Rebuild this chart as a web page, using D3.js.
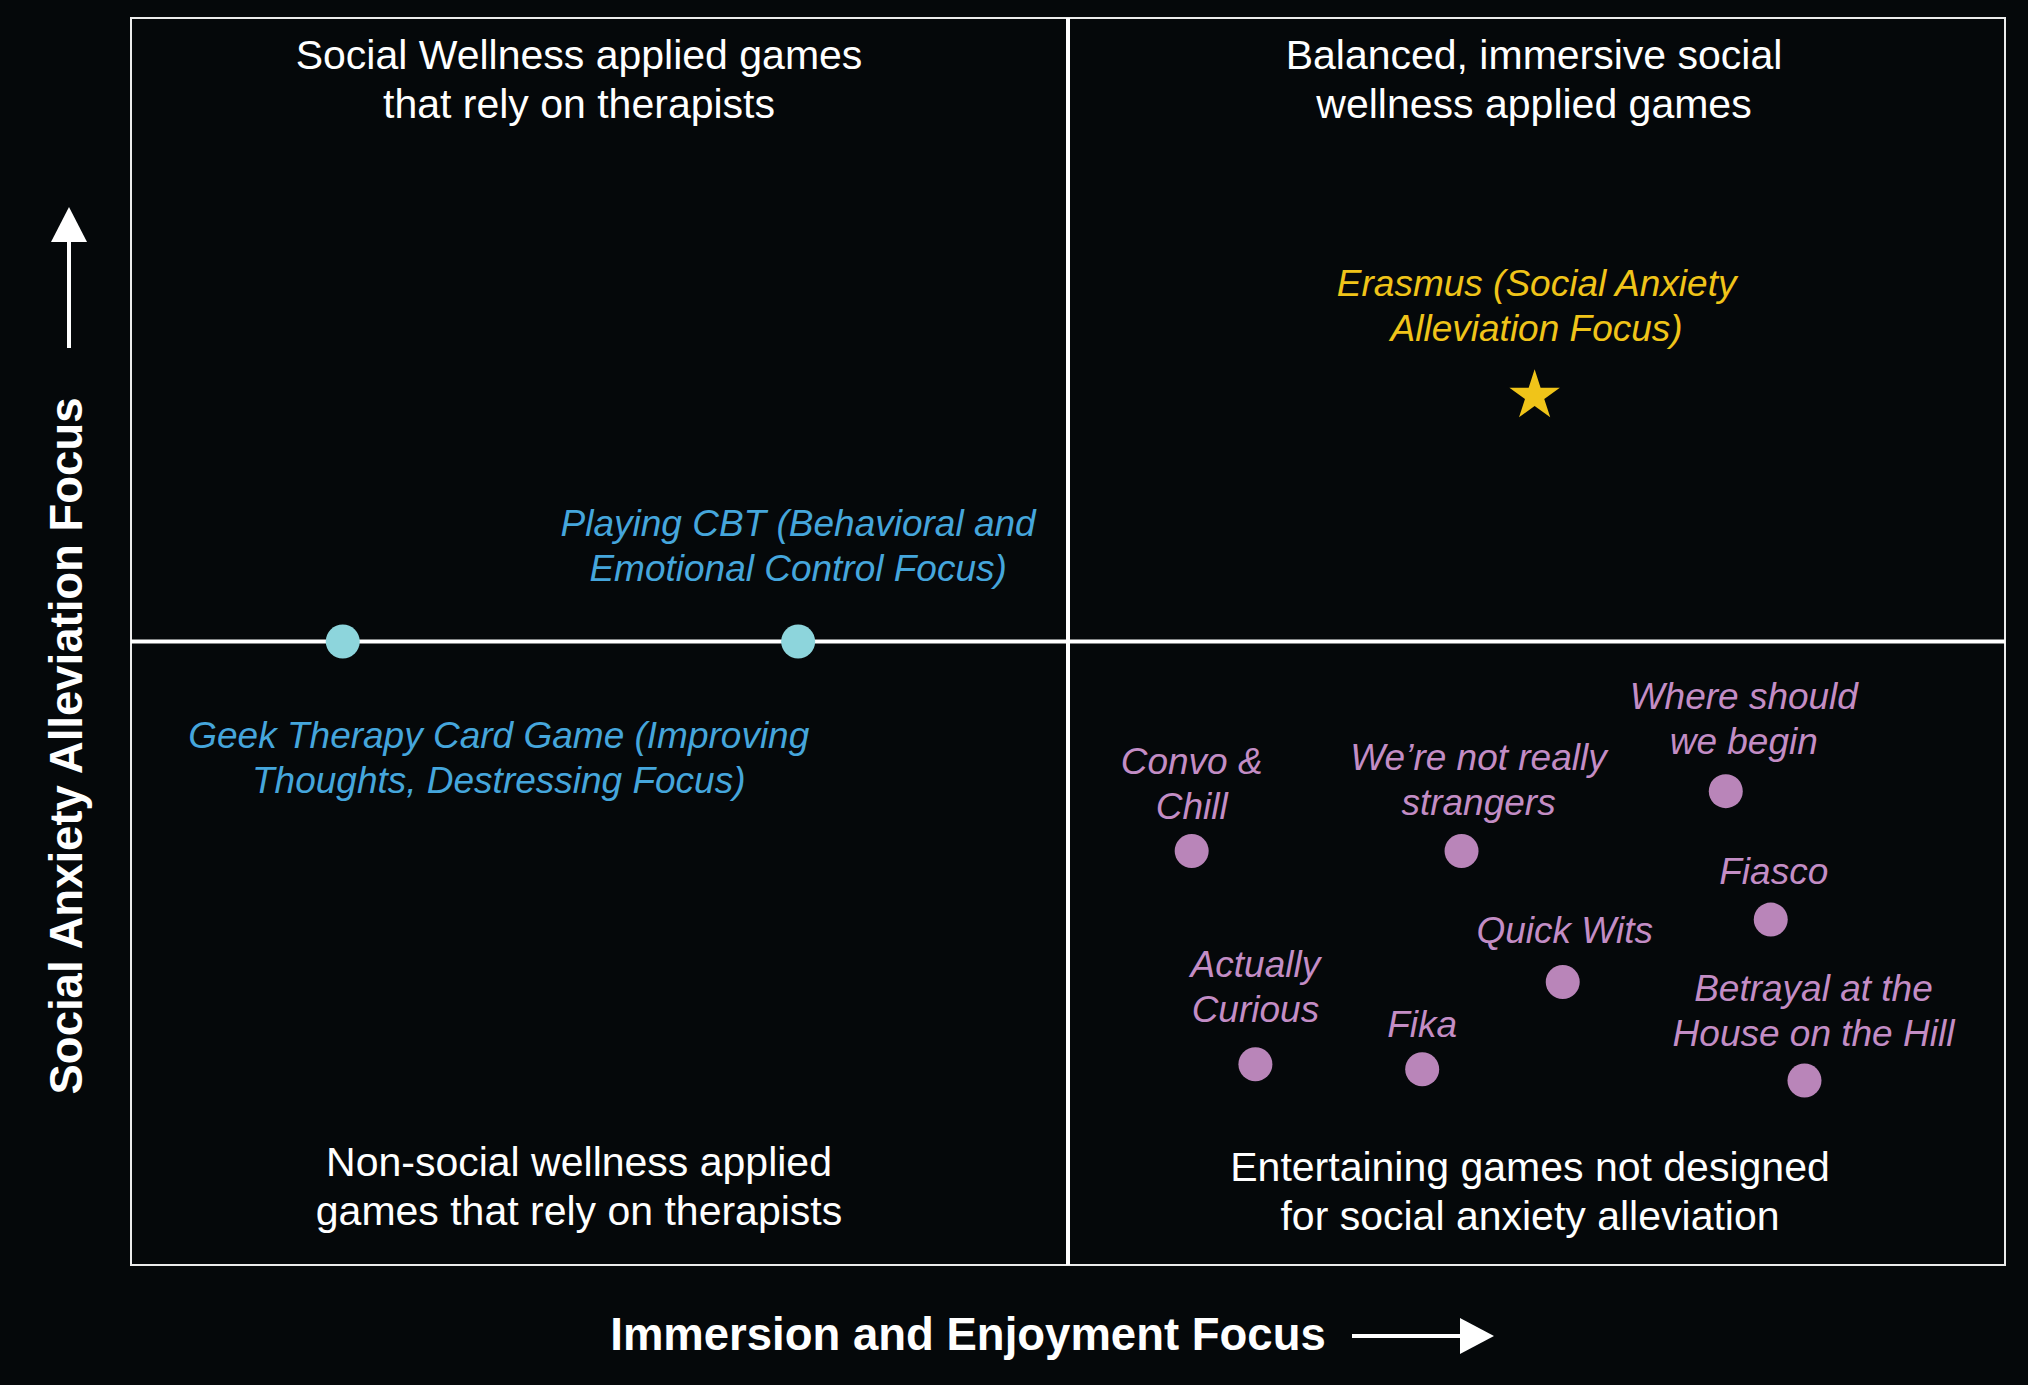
<!DOCTYPE html>
<html>
<head>
<meta charset="utf-8">
<script src="https://cdn.jsdelivr.net/npm/d3@7"></script>
<style>
  html, body { margin: 0; padding: 0; background: #05080a; }
  svg { display: block; }
</style>
</head>
<body>
<div id="chart"></div>
<script>
// ---------- DATA ----------
const games = [
  "Geek Therapy Card Game",
  "Playing CBT",
  "Erasmus",
  "Convo & Chill",
  "We're not really strangers",
  "Where should we begin",
  "Fiasco",
  "Quick Wits",
  "Actually Curious",
  "Fika",
  "Betrayal at the House on the Hill"
];
const immersion = [1.13, 3.56, 7.49, 5.66, 7.10, 8.51, 8.75, 7.64, 6.00, 6.89, 8.93];
const alleviation = [5.0, 5.0, 6.97, 3.32, 3.32, 3.80, 2.77, 2.27, 1.61, 1.57, 1.48];
const groups = ["therapy", "therapy", "erasmus", "entertain", "entertain", "entertain",
                "entertain", "entertain", "entertain", "entertain", "entertain"];
const labelLines = [
  ["Geek Therapy Card Game (Improving", "Thoughts, Destressing Focus)"],
  ["Playing CBT (Behavioral and", "Emotional Control Focus)"],
  ["Erasmus (Social Anxiety", "Alleviation Focus)"],
  ["Convo &", "Chill"],
  ["We\u2019re not really", "strangers"],
  ["Where should", "we begin"],
  ["Fiasco"],
  ["Quick Wits"],
  ["Actually", "Curious"],
  ["Fika"],
  ["Betrayal at the", "House on the Hill"]
];
const quadrantTitles = [
  ["Social Wellness applied games", "that rely on therapists"],
  ["Balanced, immersive social", "wellness applied games"],
  ["Non-social wellness applied", "games that rely on therapists"],
  ["Entertaining games not designed", "for social anxiety alleviation"]
];
const xAxisTitle = "Immersion and Enjoyment Focus";
const yAxisTitle = "Social Anxiety Alleviation Focus";

// ---------- LAYOUT / STYLE ----------
const W = 2028, H = 1385;
const frame = { left: 131, top: 18, right: 2005, bottom: 1265 };
const FONT = "'Liberation Sans', Arial, Helvetica, sans-serif";
const colors = {
  bg: "#05080a",
  frame: "#ececec",
  therapyDot: "#8dd5dc",
  therapyText: "#45a6dc",
  erasmus: "#f0c419",
  entertainDot: "#b985b9",
  entertainText: "#c38dc5",
  white: "#ffffff"
};
// label offsets (px) relative to each point: [dx, first-line dy]
const labelOffset = {
  "Geek Therapy Card Game": [156, 106],
  "Playing CBT": [0, -106],
  "Erasmus": [2, -100],
  "Convo & Chill": [0, -77],
  "We're not really strangers": [17, -81],
  "Where should we begin": [18, -82],
  "Fiasco": [3, -36],
  "Quick Wits": [2, -39],
  "Actually Curious": [0, -87],
  "Fika": [0, -32],
  "Betrayal at the House on the Hill": [9, -79]
};
const labelLineGap = 45;

const x = d3.scaleLinear().domain([0, 10]).range([frame.left, frame.right]);
const y = d3.scaleLinear().domain([0, 10]).range([frame.bottom, frame.top]);

const svg = d3.select("#chart").append("svg")
  .attr("width", W).attr("height", H)
  .style("background", colors.bg);

svg.append("rect").attr("width", W).attr("height", H).attr("fill", colors.bg);

// frame
svg.append("rect")
  .attr("x", frame.left).attr("y", frame.top)
  .attr("width", frame.right - frame.left).attr("height", frame.bottom - frame.top)
  .attr("fill", "none").attr("stroke", colors.frame).attr("stroke-width", 2);

// quadrant dividers
svg.append("line")
  .attr("x1", x(5)).attr("x2", x(5)).attr("y1", frame.top).attr("y2", frame.bottom)
  .attr("stroke", colors.white).attr("stroke-width", 4);
svg.append("line")
  .attr("x1", frame.left).attr("x2", frame.right).attr("y1", y(5)).attr("y2", y(5))
  .attr("stroke", colors.white).attr("stroke-width", 4);

// quadrant titles
const titlePos = [
  { cx: 579, base: frame.top + 51 },
  { cx: 1534, base: frame.top + 51 },
  { cx: 579, base: frame.bottom - 89 },
  { cx: 1530, base: frame.bottom - 84 }
];
quadrantTitles.forEach((lines, i) => {
  const t = svg.append("text")
    .attr("text-anchor", "middle")
    .attr("font-family", FONT)
    .attr("font-size", 41)
    .attr("fill", colors.white);
  lines.forEach((ln, j) => {
    t.append("tspan").attr("x", titlePos[i].cx).attr("y", titlePos[i].base + j * 49).text(ln);
  });
});

// points
const data = games.map((g, i) => ({
  name: g, x: immersion[i], y: alleviation[i], group: groups[i], lines: labelLines[i]
}));

const dotColor = g => g === "therapy" ? colors.therapyDot : g === "erasmus" ? colors.erasmus : colors.entertainDot;
const textColor = g => g === "therapy" ? colors.therapyText : g === "erasmus" ? colors.erasmus : colors.entertainText;

svg.selectAll("circle.pt")
  .data(data.filter(d => d.group !== "erasmus"))
  .join("circle")
  .attr("class", "pt")
  .attr("cx", d => x(d.x)).attr("cy", d => y(d.y))
  .attr("r", 17)
  .attr("fill", d => dotColor(d.group));

svg.selectAll("path.star")
  .data(data.filter(d => d.group === "erasmus"))
  .join("path")
  .attr("class", "star")
  .attr("transform", d => `translate(${x(d.x)},${y(d.y)})`)
  .attr("d", d3.symbol().type(d3.symbolStar).size(790))
  .attr("fill", colors.erasmus);

// labels
data.forEach(d => {
  const off = labelOffset[d.name];
  const t = svg.append("text")
    .attr("text-anchor", "middle")
    .attr("font-family", FONT)
    .attr("font-style", "italic")
    .attr("font-size", 37)
    .attr("fill", textColor(d.group));
  d.lines.forEach((ln, j) => {
    t.append("tspan")
      .attr("x", x(d.x) + off[0])
      .attr("y", y(d.y) + off[1] + j * labelLineGap)
      .text(ln);
  });
});

// axis titles
svg.append("text")
  .attr("x", 968).attr("y", 1350)
  .attr("text-anchor", "middle")
  .attr("font-family", FONT).attr("font-weight", "bold").attr("font-size", 45.5)
  .attr("fill", colors.white)
  .text(xAxisTitle);

svg.append("text")
  .attr("transform", "translate(82,746) rotate(-90)")
  .attr("text-anchor", "middle")
  .attr("font-family", FONT).attr("font-weight", "bold").attr("font-size", 45.5)
  .attr("fill", colors.white)
  .text(yAxisTitle);

// arrows
svg.append("line").attr("x1", 1352).attr("x2", 1462).attr("y1", 1336).attr("y2", 1336)
  .attr("stroke", colors.white).attr("stroke-width", 4);
svg.append("path").attr("d", "M1460,1318 L1494,1336 L1460,1354 Z").attr("fill", colors.white);

svg.append("line").attr("x1", 69).attr("x2", 69).attr("y1", 348).attr("y2", 240)
  .attr("stroke", colors.white).attr("stroke-width", 4);
svg.append("path").attr("d", "M51,242 L69,207 L87,242 Z").attr("fill", colors.white);
</script>
</body>
</html>
